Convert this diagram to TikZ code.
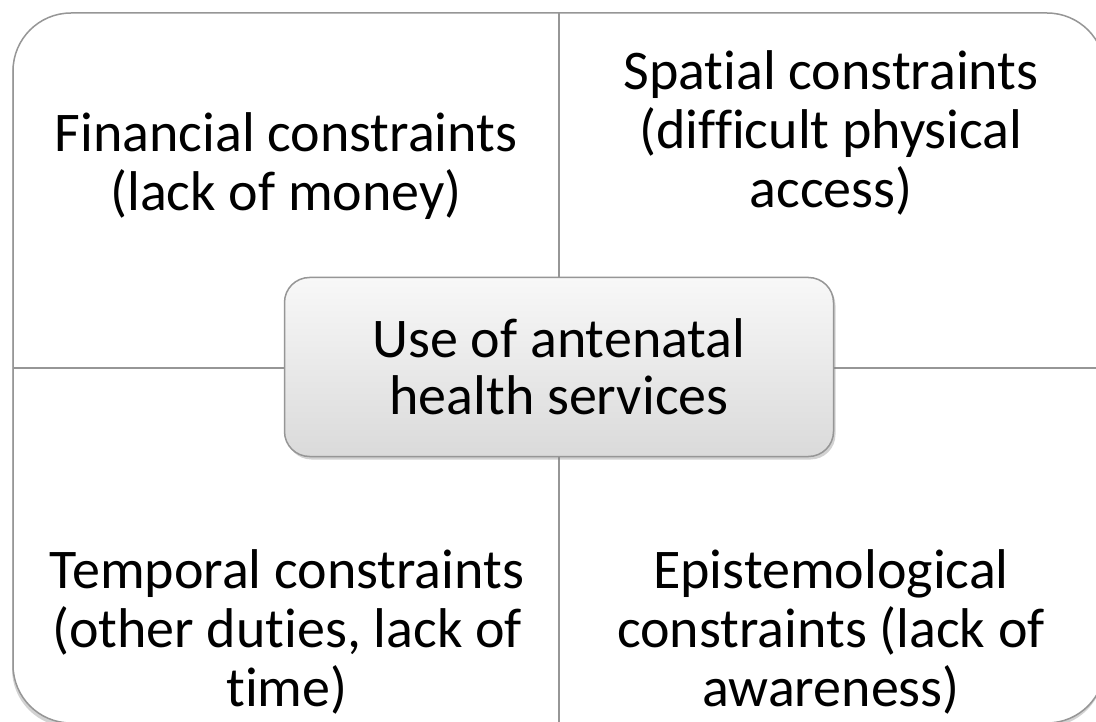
\documentclass[tikz,border=0pt]{standalone}
\usepackage{fontspec}
\setmainfont{Carlito}[Ligatures=NoCommon]
\usetikzlibrary{shadows}

\definecolor{framegray}{RGB}{150,150,150}
\definecolor{boxtop}{RGB}{248,248,248}
\definecolor{boxbottom}{RGB}{218,218,218}

\tikzset{
  quadtext/.style={align=center, font=\fontsize{56}{59}\selectfont, inner sep=0pt, anchor=base},
  hubbox/.style={draw=framegray, line width=1.5pt, rounded corners=25pt,
    top color=boxtop, bottom color=boxbottom, minimum width=549pt, minimum height=179pt,
    align=center, font=\fontsize{56}{57}\selectfont,
    drop shadow={shadow xshift=2pt, shadow yshift=-3pt, opacity=0.35}},
  divider/.style={draw=framegray, line width=2pt}
}

\begin{document}
\begin{tikzpicture}[x=1pt,y=-1pt]
  \useasboundingbox (0,0) rectangle (1096,722);
  \fill[white] (0,0) rectangle (1096,722);

  % outer frame
  \draw[framegray, line width=1.5pt, fill=white, rounded corners=58pt,
    drop shadow={shadow xshift=-1pt, shadow yshift=-4pt, opacity=0.35}]
    (13,13) rectangle (1105,723);

  % dividers
  \coordinate (top) at (559,13);
  \coordinate (bottom) at (559,723);
  \coordinate (left) at (13,368);
  \coordinate (right) at (1105,368);
  \draw[divider] (top) -- (bottom);
  \draw[divider] (left) -- (right);

  % quadrant labels (base = last baseline)
  \node[quadtext] (financial) at (286,211) {Financial constraints\\(lack of money)};
  \node[quadtext] (spatial) at (831,208) {Spatial constraints\\(difficult physical\\access)};
  \node[quadtext] (temporal) at (287,706) {Temporal constraints\\(other duties, lack of\\time)};
  \node[quadtext] (episteme) at (831,706) {Epistemological\\constraints (lack of\\awareness)};

  % centre
  \node[hubbox] (hub) at (559,367) {Use of antenatal\\health services};
\end{tikzpicture}
\end{document}
